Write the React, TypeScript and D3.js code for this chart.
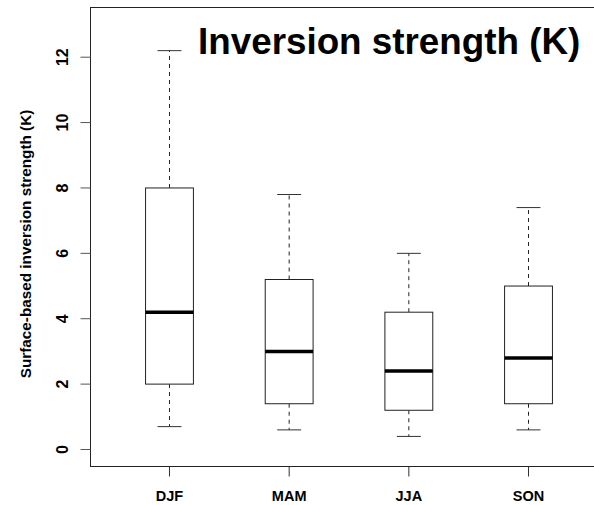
import React from "react";
import * as d3 from "d3";

const categories = ["DJF", "MAM", "JJA", "SON"];
const whiskerLow = [0.7, 0.6, 0.4, 0.6];
const q1 = [2.0, 1.4, 1.2, 1.4];
const medians = [4.2, 3.0, 2.4, 2.8];
const q3 = [8.0, 5.2, 4.2, 5.0];
const whiskerHigh = [12.2, 7.8, 6.0, 7.4];
const yTicks = [0, 2, 4, 6, 8, 10, 12];
const title = "Inversion strength (K)";
const yTitle = "Surface-based inversion strength (K)";

export default function App() {
  const W = 594, H = 505;
  const left = 90.5, top = 7.5, bottom = 466.5;
  const x = d3.scaleLinear().domain([0.34, 4.66]).range([left, 607.5]);
  const y = d3.scaleLinear().domain([-0.52, 13.52]).range([bottom, top]);
  const unit = x(2) - x(1);
  const bw = unit * 0.4;
  const cw = bw * 0.5;
  const font = "Liberation Sans, Arial, Helvetica, sans-serif";
  return (
    <svg width={W} height={H} style={{ position: "absolute", left: 0, top: 0 }} fontFamily={font}>
      <rect x={0} y={0} width={W} height={H} fill="white" />
      {categories.map((c, i) => {
        const cx = x(i + 1);
        return (
          <g key={c}>
            <line x1={cx} x2={cx} y1={y(q3[i])} y2={y(whiskerHigh[i])} stroke="#222" strokeDasharray="4,4" />
            <line x1={cx} x2={cx} y1={y(q1[i])} y2={y(whiskerLow[i])} stroke="#222" strokeDasharray="4,4" />
            <line x1={cx - cw / 2} x2={cx + cw / 2} y1={y(whiskerHigh[i])} y2={y(whiskerHigh[i])} stroke="#333" />
            <line x1={cx - cw / 2} x2={cx + cw / 2} y1={y(whiskerLow[i])} y2={y(whiskerLow[i])} stroke="#333" />
            <rect x={cx - bw / 2} y={y(q3[i])} width={bw} height={y(q1[i]) - y(q3[i])} fill="white" stroke="#222" />
            <line x1={cx - bw / 2} x2={cx + bw / 2} y1={y(medians[i])} y2={y(medians[i])} stroke="#000" strokeWidth={3.5} />
            <line x1={cx} x2={cx} y1={bottom} y2={bottom + 10} stroke="#333" />
            <text x={cx} y={501} textAnchor="middle" fontSize={14.5} fontWeight="bold">{c}</text>
          </g>
        );
      })}
      <rect x={left} y={top} width={607.5 - left} height={bottom - top} fill="none" stroke="#222" />
      {yTicks.map((t) => (
        <g key={t}>
          <line x1={left - 10} x2={left} y1={y(t)} y2={y(t)} stroke="#555" />
          <text transform={`translate(68,${y(t)}) rotate(-90)`} textAnchor="middle" fontSize={16} fontWeight="bold">{t}</text>
        </g>
      ))}
      <text transform={`translate(31,244) rotate(-90)`} textAnchor="middle" fontSize={15.3} fontWeight="bold">{yTitle}</text>
      <text x={198} y={54.3} fontSize={36.8} fontWeight="bold">{title}</text>
    </svg>
  );
}
